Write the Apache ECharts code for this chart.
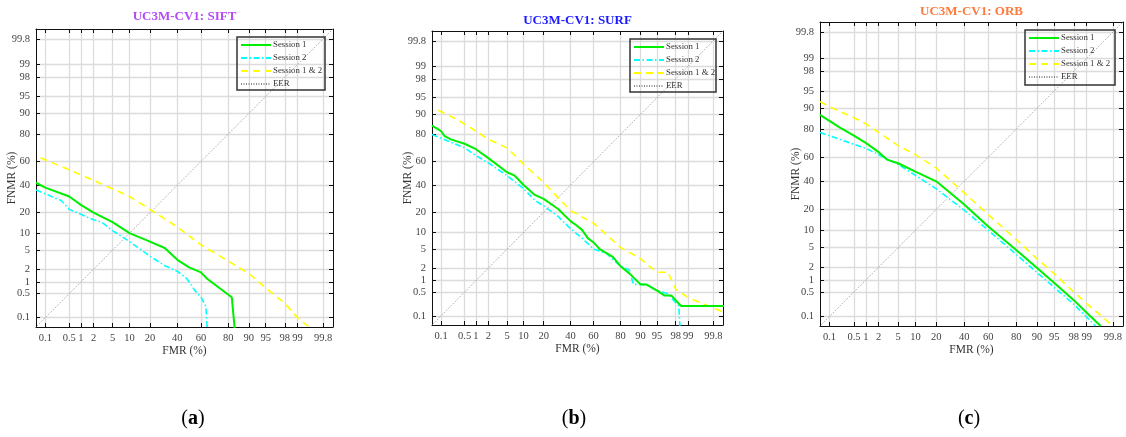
<!DOCTYPE html>
<html>
<head>
<meta charset="utf-8">
<script src="https://cdn.jsdelivr.net/npm/echarts@6/dist/echarts.min.js"></script>
<style>
  html, body { margin: 0; background: #fff; }
  #main { width: 1126px; height: 437px; }
</style>
</head>
<body>
<div id="main"></div>
<script>
// DET 曲线，单位 %
var tickPct = [0.1, 0.5, 1, 2, 5, 10, 20, 40, 60, 80, 90, 95, 98, 99, 99.8];
var tickLabels = ['0.1', '0.5', '1', '2', '5', '10', '20', '40', '60', '80', '90', '95', '98', '99', '99.8'];
var seriesNames = ['Session 1', 'Session 2', 'Session 1 & 2', 'EER'];
var titles = ['UC3M-CV1: SIFT', 'UC3M-CV1: SURF', 'UC3M-CV1: ORB'];
var captions = ['a', 'b', 'c'];

// [FMR, FNMR]
var siftS1 = [[0.05, 42], [0.1, 38], [0.5, 31], [1, 25], [2, 20], [5, 14.8], [10, 10], [20, 7.2], [30, 5.5],
  [40, 3.2], [50, 2.2], [60, 1.7], [65, 1.2], [82, 0.4], [84.5, 0.01]];
var siftS2 = [[0.05, 36], [0.1, 33], [0.3, 28], [0.5, 22], [1, 19], [2, 16], [3, 14.8], [5, 11], [10, 7.2],
  [20, 3.8], [30, 2.4], [40, 1.8], [48, 1.2], [55, 0.6], [60, 0.4], [64, 0.22], [66, 0.01]];
var siftS12 = [[0.07, 63], [0.5, 53], [2, 44], [5, 37], [10, 31], [20, 22], [40, 12.5], [60, 6.3], [80, 3],
  [90, 1.6], [95, 0.7], [98, 0.27], [99, 0.1], [99.5, 0.05]];

var surfS1 = [[0.05, 85], [0.1, 82], [0.13, 79], [0.2, 77], [0.5, 74], [1, 70], [2, 63], [5, 51], [7, 48],
  [10, 40], [15, 32], [20, 29], [30, 22], [40, 15], [45, 13], [50, 11], [55, 8], [60, 6.7], [65, 5],
  [75, 3.5], [80, 2.2], [85, 1.5], [90, 0.8], [92, 0.8], [95, 0.55], [96.5, 0.4], [97.5, 0.4],
  [98.5, 0.2], [99.95, 0.2]];
var surfS2 = [[0.05, 80], [0.5, 71], [1, 65], [2, 59], [5, 48], [10, 37], [15, 28], [20, 24], [30, 17.5],
  [40, 11.5], [50, 8], [60, 5], [70, 4.2], [80, 2.2], [85, 1.8], [87, 0.8], [92, 0.8], [95, 0.55],
  [97, 0.45], [98.3, 0.2], [98.5, 0.01]];
var surfS12 = [[0.08, 91.5], [0.3, 88], [1, 82], [2, 77], [5, 71], [10, 58], [20, 42], [40, 21], [60, 14],
  [80, 5.4], [90, 3.2], [93, 2.2], [95, 1.6], [97, 1.6], [98, 0.6], [99, 0.35], [99.95, 0.1]];

var orbS1 = [[0.05, 87.3], [0.2, 81], [0.5, 76], [1, 71], [2, 64], [3, 58], [5, 55], [10, 48], [20, 40],
  [40, 23], [60, 11.5], [80, 4.5], [90, 1.9], [95, 0.85], [98, 0.3], [99, 0.13], [99.56, 0.05]];
var orbS2 = [[0.05, 78], [0.5, 70], [1, 67], [2, 62], [5, 54], [10, 45], [20, 34], [40, 19.5], [60, 10],
  [80, 3.7], [90, 1.5], [95, 0.65], [98, 0.23], [99.4, 0.05]];
var orbS12 = [[0.05, 92.2], [0.1, 90.5], [0.5, 86], [1, 83], [2, 78], [5, 69], [10, 62], [20, 51], [40, 31],
  [60, 17], [80, 7], [90, 3], [95, 1.4], [98, 0.5], [99, 0.24], [99.8, 0.05]];

var eer = [[0.01, 0.01], [99.99, 99.99]];

var panelData = [
  [siftS1, siftS2, siftS12],
  [surfS1, surfS2, surfS12],
  [orbS1, orbS2, orbS12]
];

// 正态分布逆函数 (Acklam)
function probit(p) {
  var a = [-3.969683028665376e+01, 2.209460984245205e+02, -2.759285104469687e+02, 1.383577518672690e+02, -3.066479806614716e+01, 2.506628277459239e+00];
  var b = [-5.447609879822406e+01, 1.615858368580409e+02, -1.556989798598866e+02, 6.680131188771972e+01, -1.328068155288572e+01];
  var c = [-7.784894002430293e-03, -3.223964580411365e-01, -2.400758277161838e+00, -2.549732539343734e+00, 4.374664141464968e+00, 2.938163982698783e+00];
  var d = [7.784695709041462e-03, 3.224671290700398e-01, 2.445134137142996e+00, 3.754408661907416e+00];
  var pl = 0.02425, q, r;
  if (p < pl) {
    q = Math.sqrt(-2 * Math.log(p));
    return (((((c[0] * q + c[1]) * q + c[2]) * q + c[3]) * q + c[4]) * q + c[5]) / ((((d[0] * q + d[1]) * q + d[2]) * q + d[3]) * q + 1);
  }
  if (p > 1 - pl) {
    q = Math.sqrt(-2 * Math.log(1 - p));
    return -(((((c[0] * q + c[1]) * q + c[2]) * q + c[3]) * q + c[4]) * q + c[5]) / ((((d[0] * q + d[1]) * q + d[2]) * q + d[3]) * q + 1);
  }
  q = p - 0.5;
  r = q * q;
  return (((((a[0] * r + a[1]) * r + a[2]) * r + a[3]) * r + a[4]) * r + a[5]) * q / (((((b[0] * r + b[1]) * r + b[2]) * r + b[3]) * r + b[4]) * r + 1);
}

function toZ(arr) {
  return arr.map(function (p) { return [probit(p[0] / 100), probit(p[1] / 100)]; });
}

var tickZ = tickPct.map(function (p) { return probit(p / 100); });
var zMin = probit(0.0005);
var zMax = probit(0.999);

function fmtTick(v) {
  var best = 0;
  for (var i = 1; i < tickZ.length; i++) {
    if (Math.abs(tickZ[i] - v) < Math.abs(tickZ[best] - v)) best = i;
  }
  return tickLabels[best];
}

var FONT = 'Liberation Serif';
var grids = [
  { left: 36, top: 29, width: 297, height: 298 },
  { left: 432, top: 31, width: 291, height: 294 },
  { left: 820, top: 22, width: 303, height: 304 }
];
var legendBox = [
  { left: 237, top: 37, width: 88, height: 53 },
  { left: 630, top: 39, width: 86, height: 53 },
  { left: 1025, top: 30, width: 90, height: 55 }
];
var titleY = [17, 21, 12];
var titleColors = ['#b44cf5', '#1a1aff', '#ff7a3d'];

function axis(gi, pos, main) {
  return {
    type: 'value', gridIndex: gi, position: pos, min: zMin, max: zMax,
    axisLine: { show: true, onZero: false, lineStyle: { color: '#111', width: 1 } },
    axisTick: { show: true, inside: true, length: 4, customValues: tickZ, lineStyle: { color: '#111', width: 1 } },
    axisLabel: {
      show: main, customValues: tickZ, interval: 0, formatter: fmtTick,
      color: '#444', fontFamily: FONT, fontSize: 10.5, margin: 6
    },
    splitLine: { show: main, customValues: tickZ, lineStyle: { color: '#dcdcdc', width: 1.3 } }
  };
}

var option = {
  animation: false,
  backgroundColor: '#fff',
  grid: grids.map(function (g) { return { left: g.left, top: g.top, width: g.width, height: g.height }; }),
  xAxis: [], yAxis: [], series: [], legend: [], graphic: []
};

grids.forEach(function (g, gi) {
  option.xAxis.push(axis(gi, 'bottom', true));
  option.yAxis.push(axis(gi, 'left', true));
  var xi = option.xAxis.length - 1, yi = option.yAxis.length - 1;
  option.xAxis.push(axis(gi, 'top', false));
  option.yAxis.push(axis(gi, 'right', false));

  var d = panelData[gi];
  var styles = [
    { color: '#00ee00', width: 2, type: 'solid' },
    { color: '#00ffff', width: 1.6, type: [6, 2.5, 1.5, 2.5] },
    { color: '#ffff00', width: 1.6, type: [7, 5] },
    { color: '#8a8a8a', width: 0.9, type: [1, 1.5] }
  ];
  [d[0], d[1], d[2], eer].forEach(function (arr, si) {
    option.series.push({
      name: seriesNames[si], type: 'line', xAxisIndex: xi, yAxisIndex: yi,
      data: toZ(arr), symbol: 'none', legendIcon: 'none', clip: true, z: 5 - si,
      lineStyle: styles[si], itemStyle: { color: styles[si].color }
    });
  });

  var lb = legendBox[gi];
  option.legend.push({
    orient: 'vertical', left: lb.left + 3, top: lb.top + 3, padding: 0,
    itemWidth: 30, itemHeight: 10, itemGap: 3, data: seriesNames,
    itemStyle: { opacity: 0 },
    textStyle: { fontFamily: FONT, fontSize: 8.8, lineHeight: 10, color: '#333', padding: [0, 0, 0, -3] },
    selectedMode: false
  });
  option.graphic.push({
    type: 'rect', shape: { x: lb.left, y: lb.top, width: lb.width, height: lb.height },
    style: { fill: null, stroke: '#333', lineWidth: 1.5 }, z: 100
  });

  var cx = g.left + g.width / 2;
  option.graphic.push({
    type: 'text', x: cx, y: titleY[gi],
    style: { text: titles[gi], fill: titleColors[gi], font: 'bold 13px ' + FONT, textAlign: 'center', textVerticalAlign: 'middle' }
  });
  option.graphic.push({
    type: 'text', x: cx, y: g.top + g.height + 24,
    style: { text: 'FMR (%)', fill: '#333', font: '11.5px ' + FONT, textAlign: 'center', textVerticalAlign: 'middle' }
  });
  option.graphic.push({
    type: 'text', x: g.left - 24, y: g.top + g.height / 2, rotation: Math.PI / 2,
    style: { text: 'FNMR (%)', fill: '#333', font: '11.5px ' + FONT, textAlign: 'center', textVerticalAlign: 'middle' }
  });
});

// 子图标号
var capX = [193, 574, 969];
capX.forEach(function (x, i) {
  option.graphic.push({
    type: 'text', x: x, y: 419,
    style: {
      text: '{p|(}{b|' + captions[i] + '}{p|)}', textAlign: 'center', textVerticalAlign: 'middle',
      rich: { p: { fontFamily: FONT, fontSize: 20, fill: '#000' }, b: { fontFamily: FONT, fontSize: 20, fontWeight: 'bold', fill: '#000' } }
    }
  });
});

var chart = echarts.init(document.getElementById('main'));
chart.setOption(option);
</script>
</body>
</html>
